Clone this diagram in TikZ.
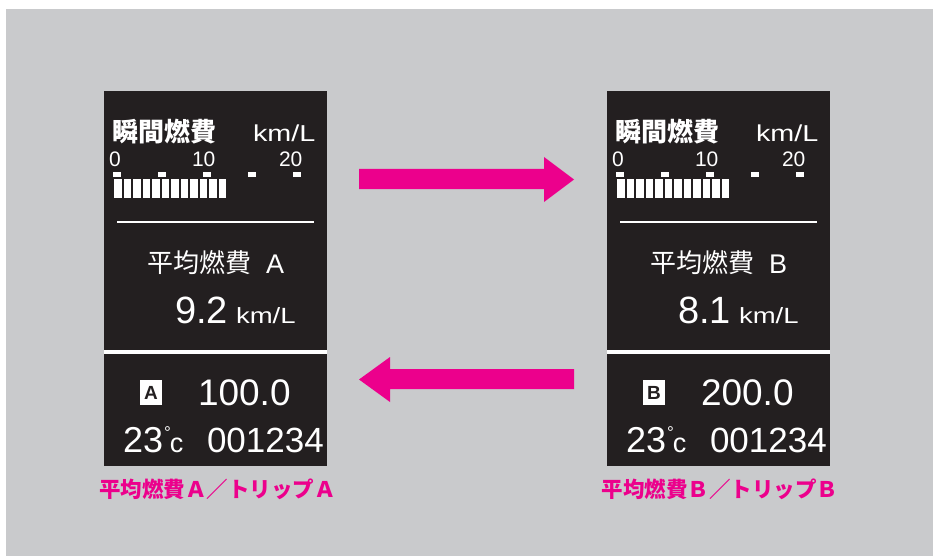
\documentclass[tikz,border=0pt]{standalone}
\usepackage{fontspec}
\usepackage{graphicx}
\setmainfont{Liberation Sans}
\newfontfamily\cjk{Noto Sans CJK JP}
\definecolor{bgc}{HTML}{C9CACC}
\definecolor{panelc}{HTML}{231F20}
\definecolor{pinkc}{HTML}{EC008C}
\newcommand\fsz[1]{\fontsize{#1}{#1}\selectfont}
\newcommand\wide[1]{\scalebox{1.25}[1]{#1}}
\newcommand\mypanel[5]{%
\begin{scope}[xshift=#2]
\node[panelbox] (#1-box) at (215.5,278.5) {};
\fill[white] (#1-box.west |- 0,350) rectangle (#1-box.east |- 0,354);
\coordinate (#1-l1) at (117,222);
\coordinate (#1-l2) at (314,222);
\draw[white, line width=1.2pt] (#1-l1) -- (#1-l2);
\foreach \i in {0,...,11} \fill[white] (114+\i*9.5,179) rectangle ++(7.5,19);
\foreach \i in {0,...,4} \fill[white] (113+\i*45,172) rectangle ++(8,5);
\node[wt, anchor=west] (#1-head) at (112,132) {\cjk\bfseries\fsz{26}瞬間燃費};
\node[wt, anchor=base west] (#1-unit1) at (253,142) {\fsz{23}\wide{km/L}};
\node[wt, anchor=base west] (#1-s0) at (109,167) {\fsz{21}0};
\node[wt, anchor=base west] (#1-s10) at (192,167) {\fsz{21}10};
\node[wt, anchor=base west] (#1-s20) at (279,167) {\fsz{21}20};
\node[wt, anchor=west] (#1-avg) at (147,263) {\cjk\fsz{26}平均燃費};
\node[wt, anchor=base west] (#1-avgl) at (266,273) {\fsz{27}#3};
\node[wt, anchor=base west] (#1-val) at (175,323) {\fsz{38}#4};
\node[wt, anchor=base west] (#1-unit2) at (236,323) {\fsz{22}\wide{km/L}};
\node[fill=white, minimum width=22pt, minimum height=25pt, text=panelc, font=\bfseries\fsz{19}] (#1-tag) at (151,392.5) {#3};
\node[wt, anchor=base west] (#1-trip) at (198,405) {\fsz{37}#5};
\node[wt, anchor=base west] (#1-temp) at (123,452) {\fsz{36}23\kern1pt\raisebox{14pt}{\fsz{17}°}\kern-1pt{\fsz{27}c}};
\node[wt, anchor=base west] (#1-odo) at (207,452) {\fsz{35}001234};
\end{scope}}
\begin{document}
\begin{tikzpicture}[x=1pt, y=-1pt,
  every node/.style={inner sep=0pt, outer sep=0pt},
  wt/.style={text=white},
  panelbox/.style={fill=panelc, minimum width=223pt, minimum height=375pt},
  pinklabel/.style={text=pinkc, font=\cjk\bfseries\fsz{21.5}},
  bigarrow/.style={fill=pinkc}]
\useasboundingbox (0,0) rectangle (933,556);
\fill[bgc] (6,9) rectangle (933,556);
\mypanel{L}{0pt}{A}{9.2}{100.0}
\mypanel{R}{503pt}{B}{8.1}{200.0}
\node[pinklabel] (L-label) at (217.5,489) {平均燃費Ａ／トリップＡ};
\node[pinklabel] (R-label) at (720,489) {平均燃費Ｂ／トリップＢ};
\fill[bigarrow] (359,169) -- (544,169) -- (544,157) -- (574,179.5) -- (544,202) -- (544,189) -- (359,189) -- cycle;
\fill[bigarrow] (574,369) -- (390,369) -- (390,357) -- (359,379.5) -- (390,402) -- (390,389) -- (574,389) -- cycle;
\end{tikzpicture}
\end{document}
